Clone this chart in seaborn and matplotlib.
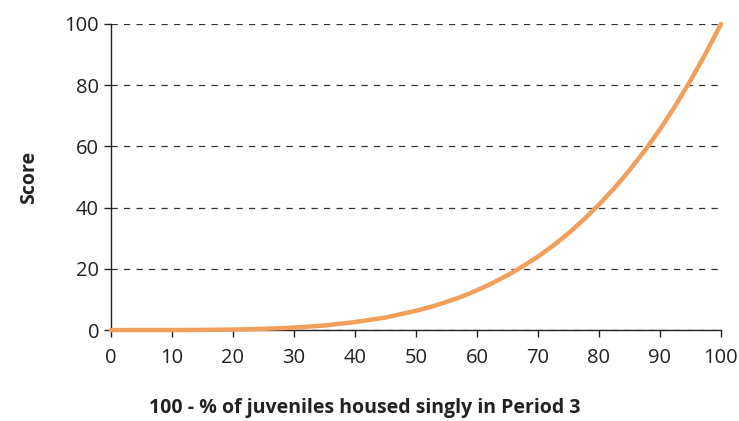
import pandas as pd
import seaborn as sns
import matplotlib.pyplot as plt

# values
pct = [0, 5, 10, 15, 20, 25, 30, 35, 40, 45, 50, 52.5, 55, 57.5, 60, 62.5, 65, 67.5, 70,
       72.5, 75, 77.5, 80, 82.5, 85, 87.5, 90, 92.5, 95, 97.5, 100]
score = [0, 0.01, 0.01, 0.05, 0.16, 0.4, 0.8, 1.5, 2.6, 4.1, 6.3, 7.6, 9.2, 10.9, 13.0, 15.3,
         17.9, 20.8, 24.0, 27.6, 31.6, 36.1, 41.0, 46.3, 52.2, 58.6, 65.6, 73.2, 81.5, 90.4, 100.0]
xticks = [0, 10, 20, 30, 40, 50, 60, 70, 80, 90, 100]
yticks = [0, 20, 40, 60, 80, 100]

sns.set_style("white")
plt.rcParams['font.family'] = ['Open Sans', 'DejaVu Sans']

df = pd.DataFrame({"pct": pct, "score": score})

fig = plt.figure(figsize=(7.39, 4.21), dpi=100)
ax = fig.add_axes([0.150, 0.216, 0.8256, 0.727])
sns.lineplot(data=df, x="pct", y="score", ax=ax, color="#F0A05A", linewidth=3.2,
             solid_capstyle="round", clip_on=False, zorder=3)

ax.set_xlim(0, 100)
ax.set_ylim(0, 100)
ax.set_xticks(xticks)
ax.set_yticks(yticks)
ax.yaxis.grid(True, linestyle=(0, (5, 5)), color="#333333", linewidth=0.9)
ax.xaxis.grid(False)
for s in ["top", "right"]:
    ax.spines[s].set_visible(False)
for s in ["left", "bottom"]:
    ax.spines[s].set_color("#222222")
    ax.spines[s].set_linewidth(1.0)
ax.tick_params(axis="both", which="major", labelsize=14.5, length=5, width=1,
               color="#222222", labelcolor="#222222", direction="out", bottom=True, left=True)
ax.tick_params(axis="x", pad=8)
ax.set_xlabel("100 - % of juveniles housed singly in Period 3", fontsize=14,
              fontweight="bold", color="#222222")
ax.xaxis.set_label_coords(0.416, -0.222)
ax.set_ylabel("Score", fontsize=14, fontweight="bold", labelpad=18, color="#222222")

plt.savefig("out.png", dpi=100)
